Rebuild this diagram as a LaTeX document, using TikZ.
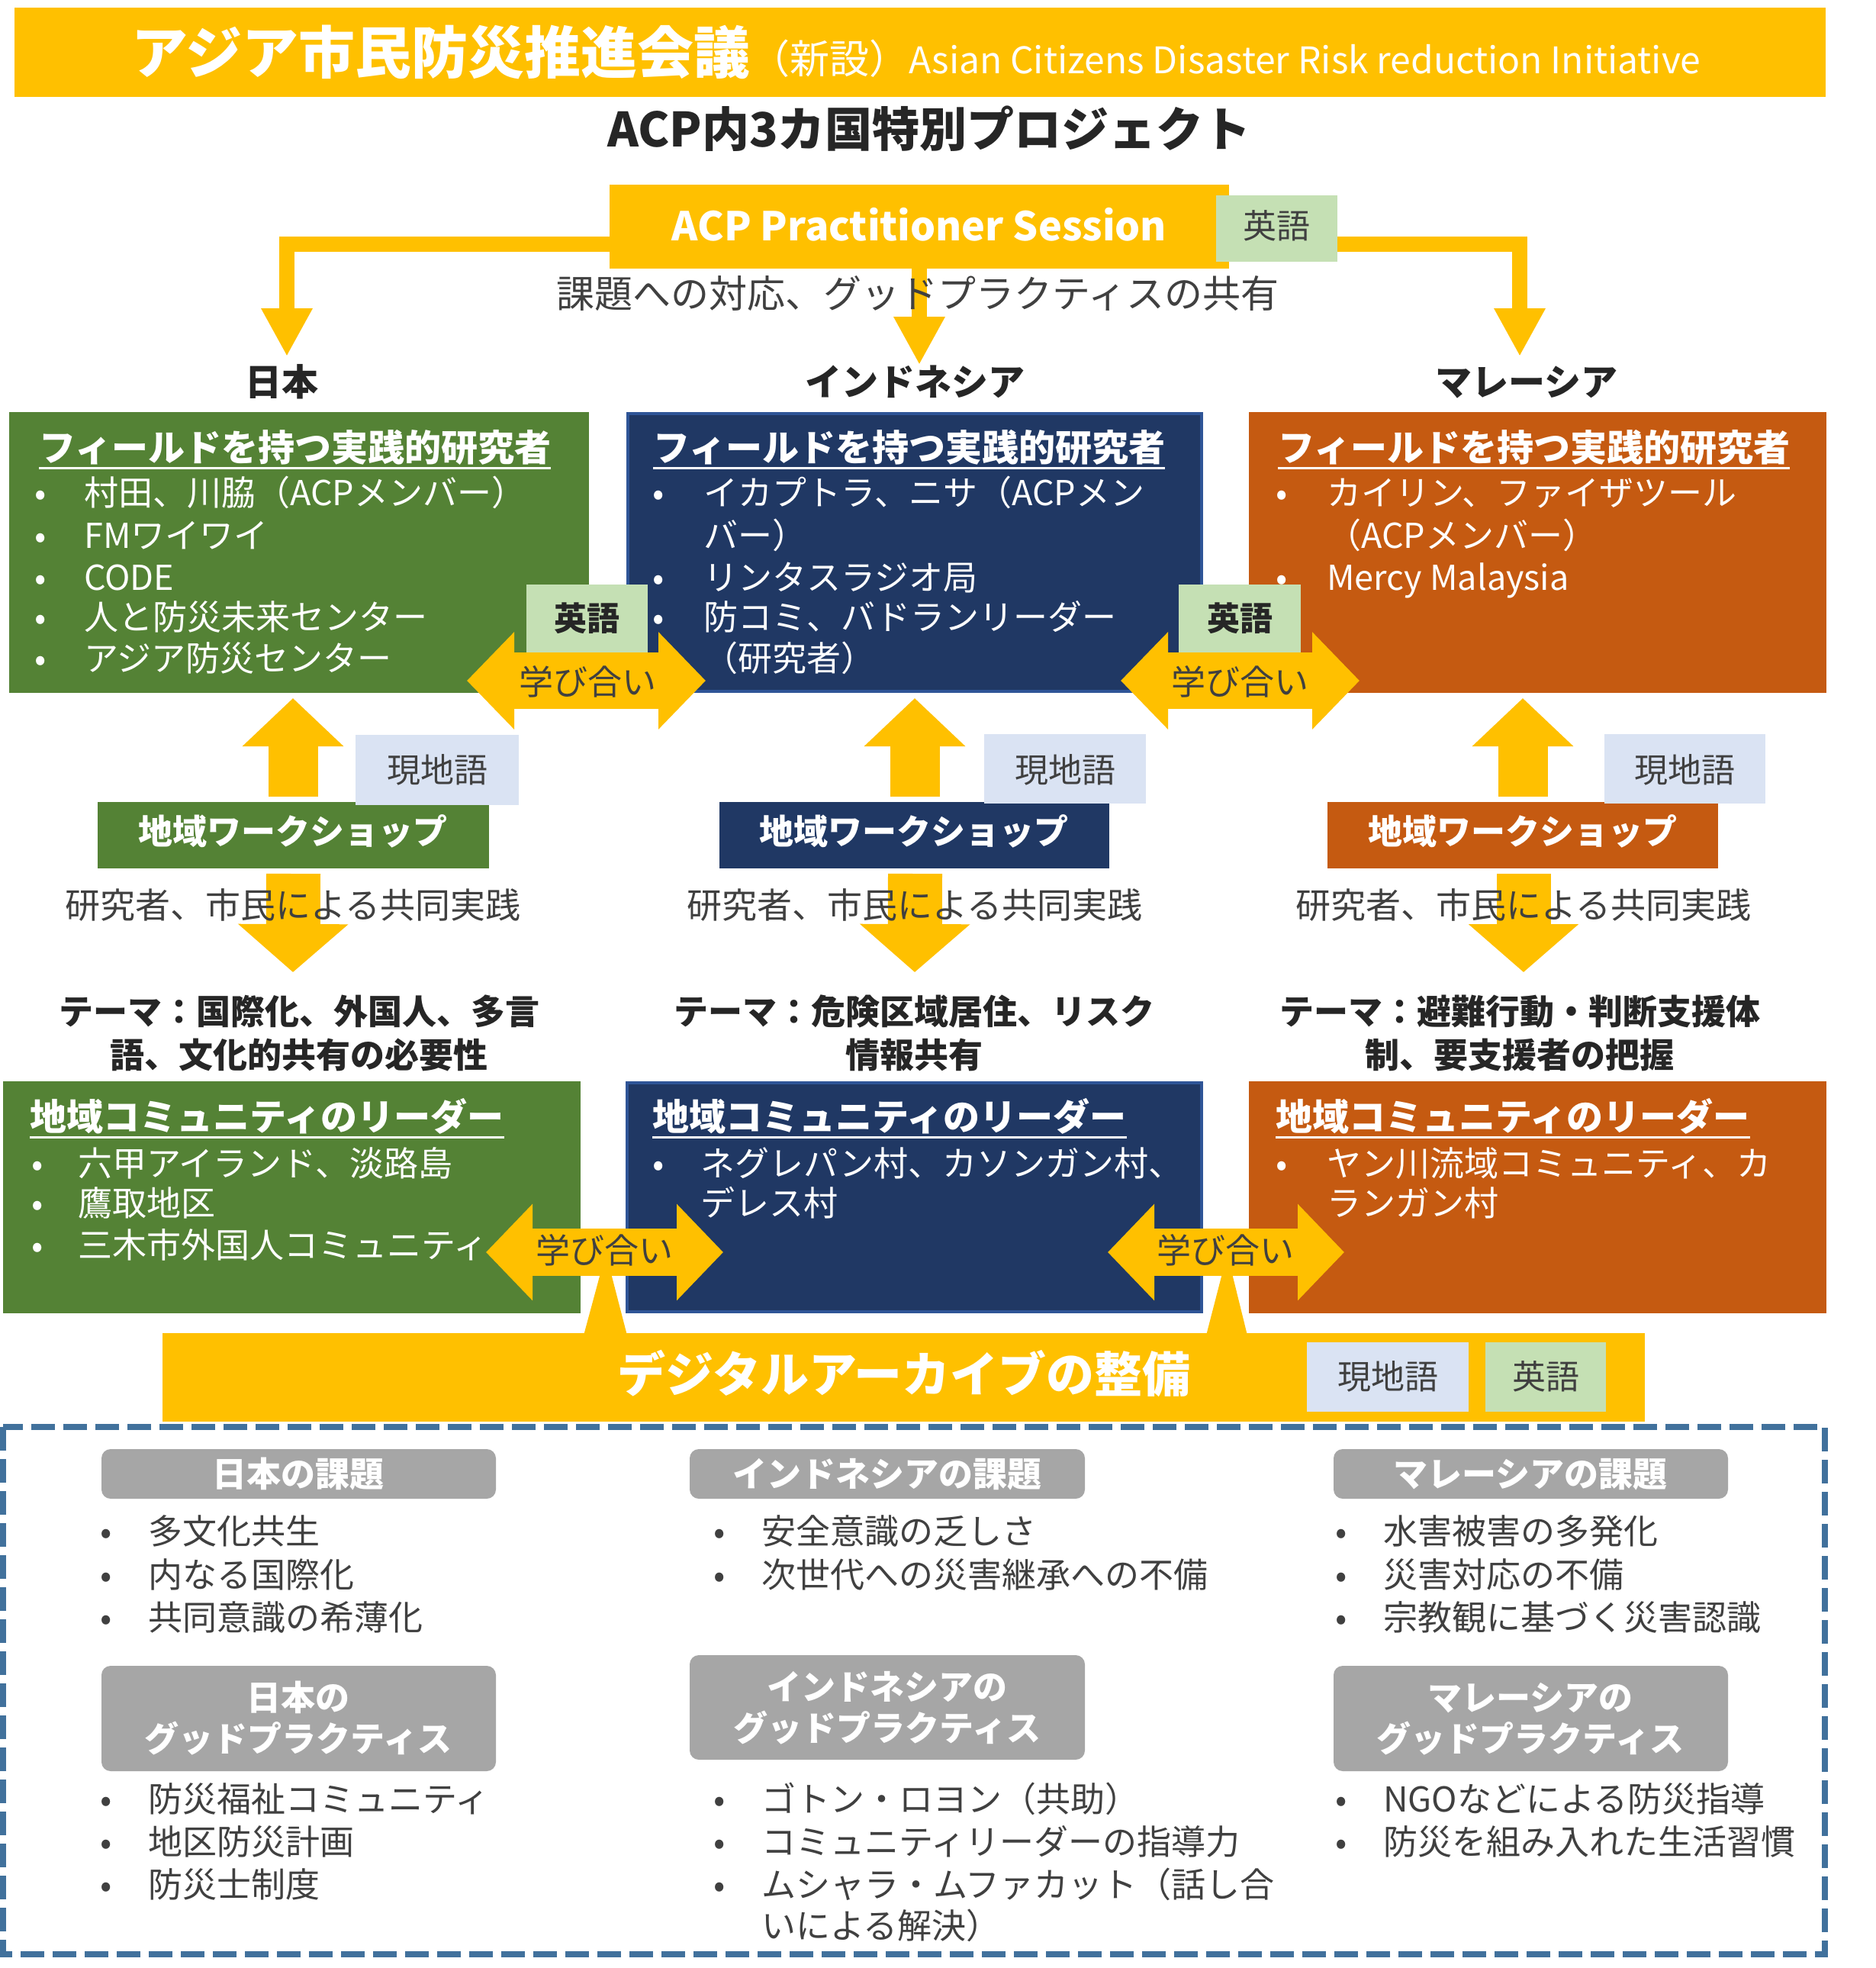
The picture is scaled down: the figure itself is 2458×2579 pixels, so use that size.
\documentclass[tikz,border=0pt]{standalone}
\usepackage{fontspec}
\setmainfont{Noto Sans CJK JP}
\usetikzlibrary{arrows.meta,fit,calc}
\definecolor{cGold}{HTML}{FFC000}
\definecolor{cGreen}{HTML}{548235}
\definecolor{cNavy}{HTML}{203864}
\definecolor{cNavyB}{HTML}{2F5597}
\definecolor{cOrange}{HTML}{C55A11}
\definecolor{cLGreen}{HTML}{C5E0B4}
\definecolor{cLBlue}{HTML}{DAE3F3}
\definecolor{cGray}{HTML}{A6A6A6}
\definecolor{cDash}{HTML}{41719C}
\definecolor{cText}{HTML}{404040}
\definecolor{cDark}{HTML}{262626}
\newcommand\fsz[1]{\fontsize{#1}{#1}\selectfont}
\tikzset{
  tx/.style={inner sep=0pt, font={\fsz{45}}},
  rbox/.style={inner sep=0pt, outer sep=0pt},
  elbow/.style={draw=cGold, line width=20pt, line join=miter, -{Triangle[length=63pt,width=63pt]}},
  upar/.style={draw=cGold, line width=65pt, -{Triangle[length=63pt,width=129pt]}},
  dnar/.style={draw=cGold, line width=71pt, -{Triangle[length=63pt,width=141pt]}},
  dblA/.style={draw=cGold, line width=74pt, {Triangle[length=62pt,width=124pt]}-{Triangle[length=62pt,width=124pt]}},
  dblB/.style={draw=cGold, line width=62pt, {Triangle[length=61pt,width=123pt]}-{Triangle[length=61pt,width=123pt]}},
  ttl/.style={inner sep=0pt, anchor=base west, text=white, font={\fsz{48}\bfseries}},
  ws/.style={inner sep=0pt, anchor=base, text=white, font={\fsz{45}\bfseries}},
  gtx/.style={inner sep=0pt, anchor=base, text=white, font={\fsz{45}\bfseries}},
}
\newcommand\bitem[6]{%
  \node[tx,anchor=base,text=#5] (#1-b) at (#2,#4) {•};
  \node[tx,anchor=base west,text=#5] (#1) at (#3,#4) {#6};}
\newcommand\citem[5]{%
  \node[tx,anchor=base west,text=#4] (#1) at (#2,#3) {#5};}
\begin{document}
\begin{tikzpicture}[x=1pt,y=-1pt]
\fill[white] (0,0) rectangle (2458,2579);
\useasboundingbox (0,0) rectangle (2458,2579);

% ---- banner
\node[rbox, fit={(19,10) (2393,127)}, fill=cGold] (banner) {};
\node[inner sep=0pt, anchor=base west, text=white] (bannerT) at (172,97)
  {\fsz{74}\bfseries アジア市民防災推進会議\fsz{52}\mdseries （新設）\fsz{48}Asian Citizens Disaster Risk reduction Initiative};
\node[inner sep=0pt, anchor=base, text=cDark, font={\fsz{62}\bfseries}] (sub) at (1218,193) {ACP内3カ国特別プロジェクト};

% ---- ACP session and elbow arrows
\coordinate (acpL) at (1000,320);
\coordinate (acpR) at (1600,320);
\coordinate (jpTip) at (376,467);
\coordinate (idTip) at (1205,478);
\coordinate (myTip) at (1992,467);
\draw[elbow] (acpL) -| (jpTip);
\draw[elbow] (acpR) -| (myTip);
\node[rbox, fit={(799,242) (1611,352)}, fill=cGold] (acp) {};
\draw[elbow] (acp.south) -- (idTip);
\node[inner sep=0pt, anchor=base, text=white, font={\fsz{52}\bfseries}] (acpT) at (1205,316) {ACP Practitioner Session};
\node[rbox, fit={(1594,256) (1753,343)}, fill=cLGreen] (eigo0) {};
\node[tx, anchor=base, text=cText, font={\fsz{44}}] (eigo0T) at (1673,313) {英語};
\node[tx, anchor=base, text=cText, font={\fsz{50}}] (share) at (1203,403) {課題への対応、グッドプラクティスの共有};

% ---- country labels
\node[inner sep=0pt, anchor=base, text=cDark, font={\fsz{48}\bfseries}] (jp) at (369,518) {日本};
\node[inner sep=0pt, anchor=base, text=cDark, font={\fsz{48}\bfseries}] (id) at (1199,518) {インドネシア};
\node[inner sep=0pt, anchor=base, text=cDark, font={\fsz{48}\bfseries}] (my) at (2001,518) {マレーシア};

% ---- top research boxes
\node[rbox, fit={(12,540) (772,908)}, fill=cGreen] (jpRes) {};
\node[rbox, fit={(823,542) (1575,906)}, fill=cNavy, draw=cNavyB, line width=4pt] (idRes) {};
\node[rbox, fit={(1637,540) (2394,908)}, fill=cOrange] (myRes) {};

\node[ttl] (jpResT) at (51,604) {フィールドを持つ実践的研究者};
\draw[white, line width=3pt] ($(jpResT.base west)+(0,9)$) -- ($(jpResT.base east)+(0,9)$);
\bitem{jp1}{53}{110}{662}{white}{村田、川脇（ACPメンバー）}
\bitem{jp2}{53}{110}{718}{white}{FMワイワイ}
\bitem{jp3}{53}{110}{773}{white}{CODE}
\bitem{jp4}{53}{110}{825}{white}{人と防災未来センター}
\bitem{jp5}{53}{110}{879}{white}{アジア防災センター}

\node[ttl] (idResT) at (856,604) {フィールドを持つ実践的研究者};
\draw[white, line width=3pt] ($(idResT.base west)+(0,9)$) -- ($(idResT.base east)+(0,9)$);
\bitem{id1}{863}{922}{662}{white}{イカプトラ、ニサ（ACPメン}
\citem{id1c}{922}{718}{white}{バー）}
\bitem{id2}{863}{922}{773}{white}{リンタスラジオ局}
\bitem{id3}{863}{922}{825}{white}{防コミ、バドランリーダー}
\citem{id3c}{922}{879}{white}{（研究者）}

\node[ttl] (myResT) at (1675,604) {フィールドを持つ実践的研究者};
\draw[white, line width=3pt] ($(myResT.base west)+(0,9)$) -- ($(myResT.base east)+(0,9)$);
\bitem{my1}{1680}{1739}{662}{white}{カイリン、ファイザツール}
\citem{my1c}{1739}{718}{white}{（ACPメンバー）}
\bitem{my2}{1680}{1739}{773}{white}{Mercy Malaysia}

% ---- learning arrows (top)
\coordinate (l1a) at (612,892); \coordinate (l1b) at (925,892);
\coordinate (l2a) at (1469,892); \coordinate (l2b) at (1782,892);
\draw[dblA] (l1a) -- (l1b);
\draw[dblA] (l2a) -- (l2b);
\node[tx, anchor=base, text=cText] (learn1) at (770,910) {学び合い};
\node[tx, anchor=base, text=cText] (learn2) at (1625,910) {学び合い};
\node[rbox, fit={(690,766) (849,855)}, fill=cLGreen] (eigo1) {};
\node[rbox, fit={(1545,766) (1705,855)}, fill=cLGreen] (eigo2) {};
\node[inner sep=0pt, anchor=base, text=cDark, font={\fsz{43}\bfseries}] (eigo1T) at (769.5,826) {英語};
\node[inner sep=0pt, anchor=base, text=cDark, font={\fsz{43}\bfseries}] (eigo2T) at (1625,826) {英語};

% ---- workshops
\node[rbox, fit={(128,1051) (641,1138)}, fill=cGreen] (jpWS) {};
\node[rbox, fit={(943,1051) (1454,1138)}, fill=cNavy] (idWS) {};
\node[rbox, fit={(1740,1051) (2252,1138)}, fill=cOrange] (myWS) {};
\node[ws] (jpWST) at (384,1106) {地域ワークショップ};
\node[ws] (idWST) at (1198,1106) {地域ワークショップ};
\node[ws] (myWST) at (1996,1106) {地域ワークショップ};

\draw[upar] (384,1044) -- (384,915);
\draw[upar] (1199,1044) -- (1199,915);
\draw[upar] (1996,1044) -- (1996,915);

\node[rbox, fit={(466,963) (680,1055)}, fill=cLBlue] (loc1) {};
\node[rbox, fit={(1290,962) (1502,1053)}, fill=cLBlue] (loc2) {};
\node[rbox, fit={(2103,962) (2314,1053)}, fill=cLBlue] (loc3) {};
\node[tx, anchor=base, text=cText, font={\fsz{44}}] (loc1T) at (573,1025) {現地語};
\node[tx, anchor=base, text=cText, font={\fsz{44}}] (loc2T) at (1396,1025) {現地語};
\node[tx, anchor=base, text=cText, font={\fsz{44}}] (loc3T) at (2208.5,1025) {現地語};

\coordinate (jpDn) at (384,1274);
\coordinate (idDn) at (1199,1274);
\coordinate (myDn) at (1997,1274);
\draw[dnar] ($(jpWS.south)+(0,7)$) -- (jpDn);
\draw[dnar] ($(idWS.south)+(1,7)$) -- (idDn);
\draw[dnar] ($(myWS.south)+(1,7)$) -- (myDn);
\node[tx, anchor=base, text=cText, font={\fsz{46}}] (jpCo) at (384,1203) {研究者、市民による共同実践};
\node[tx, anchor=base, text=cText, font={\fsz{46}}] (idCo) at (1199,1203) {研究者、市民による共同実践};
\node[tx, anchor=base, text=cText, font={\fsz{46}}] (myCo) at (1997,1203) {研究者、市民による共同実践};

% ---- themes
\node[inner sep=0pt, anchor=base, text=cDark, font={\fsz{45}\bfseries}] (jpTh1) at (392,1342) {テーマ：国際化、外国人、多言};
\node[inner sep=0pt, anchor=base, text=cDark, font={\fsz{45}\bfseries}] (jpTh2) at (392,1399) {語、文化的共有の必要性};
\node[inner sep=0pt, anchor=base, text=cDark, font={\fsz{45}\bfseries}] (idTh1) at (1198,1342) {テーマ：危険区域居住、リスク};
\node[inner sep=0pt, anchor=base, text=cDark, font={\fsz{45}\bfseries}] (idTh2) at (1198,1399) {情報共有};
\node[inner sep=0pt, anchor=base, text=cDark, font={\fsz{45}\bfseries}] (myTh1) at (1992,1342) {テーマ：避難行動・判断支援体};
\node[inner sep=0pt, anchor=base, text=cDark, font={\fsz{45}\bfseries}] (myTh2) at (1992,1399) {制、要支援者の把握};

% ---- community leader boxes
\node[rbox, fit={(4,1417) (761,1721)}, fill=cGreen] (jpCom) {};
\node[rbox, fit={(822,1419) (1575,1719)}, fill=cNavy, draw=cNavyB, line width=4pt] (idCom) {};
\node[rbox, fit={(1637,1417) (2394,1721)}, fill=cOrange] (myCom) {};

\node[ttl] (jpComT) at (39,1481) {地域コミュニティのリーダー};
\draw[white, line width=3pt] ($(jpComT.base west)+(0,9)$) -- ($(jpComT.base east)+(0,9)$);
\bitem{jc1}{49}{102}{1541}{white}{六甲アイランド、淡路島}
\bitem{jc2}{49}{102}{1593}{white}{鷹取地区}
\bitem{jc3}{49}{102}{1648}{white}{三木市外国人コミュニティ}

\node[ttl] (idComT) at (855,1481) {地域コミュニティのリーダー};
\draw[white, line width=3pt] ($(idComT.base west)+(0,9)$) -- ($(idComT.base east)+(0,9)$);
\bitem{ic1}{863}{918}{1541}{white}{ネグレパン村、カソンガン村、}
\citem{ic1c}{918}{1593}{white}{デレス村}

\node[ttl] (myComT) at (1672,1481) {地域コミュニティのリーダー};
\draw[white, line width=3pt] ($(myComT.base west)+(0,9)$) -- ($(myComT.base east)+(0,9)$);
\bitem{mc1}{1680}{1739}{1541}{white}{ヤン川流域コミュニティ、カ}
\citem{mc1c}{1739}{1593}{white}{ランガン村}

% ---- digital archive and wedges
\node[rbox, fit={(213,1747) (2156,1863)}, fill=cGold] (arch) {};
\fill[cGold] (765,1750) -- (788,1665) -- (800,1665) -- (822,1750) -- cycle;
\fill[cGold] (1581,1750) -- (1603,1665) -- (1614,1665) -- (1635,1750) -- cycle;
\coordinate (l3a) at (637,1641); \coordinate (l3b) at (948,1641);
\coordinate (l4a) at (1452,1641); \coordinate (l4b) at (1762,1641);
\draw[dblB] (l3a) -- (l3b);
\draw[dblB] (l4a) -- (l4b);
\node[tx, anchor=base, text=cText] (learn3) at (792,1655) {学び合い};
\node[tx, anchor=base, text=cText] (learn4) at (1606,1655) {学び合い};
\node[inner sep=0pt, anchor=base, text=white, font={\fsz{63}\bfseries}] (archT) at (1185,1824) {デジタルアーカイブの整備};
\node[rbox, fit={(1713,1759) (1925,1850)}, fill=cLBlue] (loc4) {};
\node[rbox, fit={(1947,1759) (2105,1850)}, fill=cLGreen] (eigo3) {};
\node[tx, anchor=base, text=cText, font={\fsz{44}}] (loc4T) at (1819,1820) {現地語};
\node[tx, anchor=base, text=cText, font={\fsz{44}}] (eigo3T) at (2026,1820) {英語};

% ---- dashed frame
\draw[cDash, line width=8pt, dash pattern=on 31pt off 11pt] (4,1870) rectangle (2392,2561);

% ---- issues / good practices
\node[rbox, fit={(133,1899) (650,1964)}, fill=cGray, rounded corners=12pt] (g1) {};
\node[rbox, fit={(904,1899) (1422,1964)}, fill=cGray, rounded corners=12pt] (g2) {};
\node[rbox, fit={(1748,1899) (2265,1964)}, fill=cGray, rounded corners=12pt] (g3) {};
\node[gtx] (g1T) at (391,1948) {日本の課題};
\node[gtx] (g2T) at (1163,1948) {インドネシアの課題};
\node[gtx] (g3T) at (2006,1948) {マレーシアの課題};

\bitem{a1}{139}{194}{2023}{cText}{多文化共生}
\bitem{a2}{139}{194}{2080}{cText}{内なる国際化}
\bitem{a3}{139}{194}{2136}{cText}{共同意識の希薄化}
\bitem{b1}{943}{998}{2023}{cText}{安全意識の乏しさ}
\bitem{b2}{943}{998}{2080}{cText}{次世代への災害継承への不備}
\bitem{c1}{1758}{1813}{2023}{cText}{水害被害の多発化}
\bitem{c2}{1758}{1813}{2080}{cText}{災害対応の不備}
\bitem{c3}{1758}{1813}{2136}{cText}{宗教観に基づく災害認識}

\node[rbox, fit={(133,2183) (650,2321)}, fill=cGray, rounded corners=12pt] (h1) {};
\node[rbox, fit={(904,2169) (1422,2306)}, fill=cGray, rounded corners=12pt] (h2) {};
\node[rbox, fit={(1748,2183) (2265,2321)}, fill=cGray, rounded corners=12pt] (h3) {};
\node[gtx] (h1T1) at (391,2241) {日本の};
\node[gtx] (h1T2) at (391,2295) {グッドプラクティス};
\node[gtx] (h2T1) at (1163,2227) {インドネシアの};
\node[gtx] (h2T2) at (1163,2281) {グッドプラクティス};
\node[gtx] (h3T1) at (2006,2241) {マレーシアの};
\node[gtx] (h3T2) at (2006,2295) {グッドプラクティス};

\bitem{d1}{139}{194}{2374}{cText}{防災福祉コミュニティ}
\bitem{d2}{139}{194}{2430}{cText}{地区防災計画}
\bitem{d3}{139}{194}{2486}{cText}{防災士制度}
\bitem{e1}{943}{998}{2374}{cText}{ゴトン・ロヨン（共助）}
\bitem{e2}{943}{998}{2430}{cText}{コミュニティリーダーの指導力}
\bitem{e3}{943}{998}{2486}{cText}{ムシャラ・ムファカット（話し合}
\citem{e3c}{998}{2540}{cText}{いによる解決）}
\bitem{f1}{1758}{1813}{2374}{cText}{NGOなどによる防災指導}
\bitem{f2}{1758}{1813}{2430}{cText}{防災を組み入れた生活習慣}
\end{tikzpicture}
\end{document}
